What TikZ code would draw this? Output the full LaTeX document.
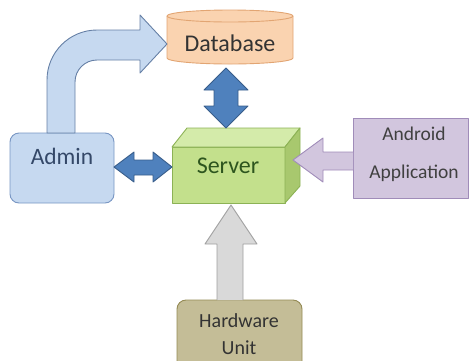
\documentclass[tikz,border=0pt]{standalone}
\usepackage{fontspec}
\setmainfont{Carlito}
\begin{document}
\begin{tikzpicture}[x=1pt,y=-1pt,
  blk/.style={line width=0.9pt, line join=round},
  lbl/.style={inner sep=0pt, align=center}]
\definecolor{adminF}{RGB}{198,217,240}
\definecolor{adminD}{RGB}{120,150,195}
\definecolor{adminT}{RGB}{52,72,104}
\definecolor{dbF}{RGB}{250,211,176}
\definecolor{dbD}{RGB}{226,165,115}
\definecolor{dblF}{RGB}{79,129,189}
\definecolor{dblD}{RGB}{56,93,138}
\definecolor{srvF}{RGB}{195,224,140}
\definecolor{srvT}{RGB}{212,235,170}
\definecolor{srvS}{RGB}{168,200,110}
\definecolor{srvD}{RGB}{140,178,85}
\definecolor{srvTx}{RGB}{45,85,30}
\definecolor{andF}{RGB}{210,198,222}
\definecolor{andD}{RGB}{160,140,185}
\definecolor{hwF}{RGB}{196,189,151}
\definecolor{hwD}{RGB}{148,138,84}
\definecolor{grF}{RGB}{217,217,217}
\definecolor{grD}{RGB}{160,160,160}
\useasboundingbox (0,0) rectangle (471,360);
\clip (0,0) rectangle (471,360);
% Admin box
\draw[blk, fill=adminF, draw=adminD, rounded corners=9pt] (10,133) rectangle (114,203);
\node[lbl, text=adminT, font=\fontsize{23.5}{26}\selectfont] (admin) at (62,156) {Admin};
% Database cylinder
\draw[blk, fill=dbF, draw=dbD] (167,16) -- (167,58) arc[start angle=180, end angle=0, x radius=63, y radius=6] -- (293,16);
\draw[blk, fill=dbF, draw=dbD] (230,16) ellipse[x radius=63, y radius=6];
\node[lbl, text=black!80, font=\fontsize{24}{26}\selectfont] (db) at (230,43) {Database};
% Server cuboid
\draw[blk, fill=srvF, draw=srvD] (172,147) rectangle (285,203);
\draw[blk, fill=srvT, draw=srvD] (172,147) -- (187,128) -- (300,128) -- (285,147) -- cycle;
\draw[blk, fill=srvS, draw=srvD] (285,147) -- (300,128) -- (300,186) -- (285,203) -- cycle;
\node[lbl, text=srvTx, font=\fontsize{24}{26}\selectfont] (server) at (228,166) {Server};
% Android box
\draw[blk, fill=andF, draw=andD] (353,118) rectangle (468,198);
\node[lbl, text=black!75, font=\fontsize{19.5}{38}\selectfont] (android) at (414,154) {Android\\Application};
% Hardware box
\draw[blk, fill=hwF, draw=hwD, rounded corners=9pt] (177,300) rectangle (302,380);
\node[lbl, text=black!80, font=\fontsize{20}{27}\selectfont] (hw) at (239,334) {Hardware\\Unit};
% Bent arrow Admin -> Database
\draw[blk, fill=adminF, draw=adminD!85!black]
  (47,133) -- (47,80) arc[start angle=180, end angle=270, radius=50]
  -- (140,30) -- (140,15) -- (167,44) -- (140,73) -- (140,60) -- (97,60)
  arc[start angle=270, end angle=180, radius=22] -- (75,133) -- cycle;
% Vertical double arrow DB <-> Server
\draw[blk, fill=dblF, draw=dblD]
  (226,68) -- (248,90) -- (238,90) -- (238,106) -- (248,106) -- (226,128)
  -- (204,106) -- (214,106) -- (214,90) -- (204,90) -- cycle;
% Horizontal double arrow Admin <-> Server
\draw[blk, fill=dblF, draw=dblD]
  (114,167) -- (134,152) -- (134,160) -- (153,160) -- (153,152) -- (172,167)
  -- (153,182) -- (153,175) -- (134,175) -- (134,182) -- cycle;
% Android -> Server arrow
\draw[blk, fill=andF, draw=andD]
  (353,152) -- (323,152) -- (323,138) -- (293,160) -- (323,182) -- (323,170) -- (353,170);
% Hardware -> Server arrow
\draw[blk, fill=grF, draw=grD]
  (217,300) -- (217,244) -- (205,244) -- (231,205) -- (257,244) -- (243,244) -- (243,300);
\end{tikzpicture}
\end{document}
